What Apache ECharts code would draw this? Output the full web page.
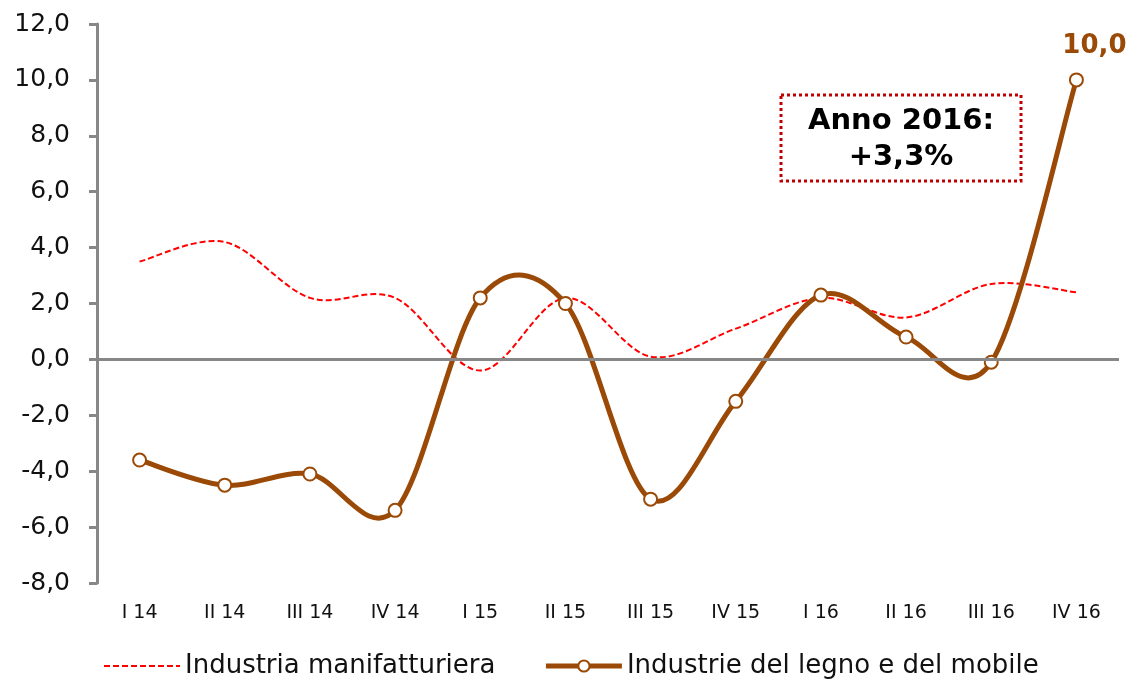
<!DOCTYPE html>
<html>
<head>
<meta charset="utf-8">
<script src="https://cdn.jsdelivr.net/npm/echarts@6/dist/echarts.min.js"></script>
<style>
  html, body { margin: 0; padding: 0; background: #fff; }
  #chart { width: 1130px; height: 680px; }
</style>
</head>
<body>
<div id="chart"></div>
<script>
const categories = ['I 14', 'II 14', 'III 14', 'IV 14', 'I 15', 'II 15', 'III 15', 'IV 15', 'I 16', 'II 16', 'III 16', 'IV 16'];
const manifatturiera = [3.5, 4.2, 2.2, 2.2, -0.4, 2.2, 0.1, 1.1, 2.2, 1.5, 2.7, 2.4];
const legnoMobile = [-3.6, -4.5, -4.1, -5.4, 2.2, 2.0, -5.0, -1.5, 2.3, 0.8, -0.1, 10.0];
const yTicks = { min: -8, max: 12, step: 2 };
const noteText = 'Anno 2016:\n+3,3%';

const font = 'DejaVu Sans, Verdana, sans-serif';
const brown = '#9a4a06';
const red = '#ff0000';
const grey = '#878787';

const fmt = v => v.toFixed(1).replace('.', ',');

// smooth curve like the spreadsheet one (Catmull-Rom as cubic Bezier)
function smoothPath(pts) {
  let d = 'M' + pts[0][0] + ',' + pts[0][1];
  for (let i = 0; i < pts.length - 1; i++) {
    const p0 = pts[Math.max(i - 1, 0)];
    const p1 = pts[i];
    const p2 = pts[i + 1];
    const p3 = pts[Math.min(i + 2, pts.length - 1)];
    const c1 = [p1[0] + (p2[0] - p0[0]) / 6, p1[1] + (p2[1] - p0[1]) / 6];
    const c2 = [p2[0] - (p3[0] - p1[0]) / 6, p2[1] - (p3[1] - p1[1]) / 6];
    d += 'C' + c1.join(',') + ' ' + c2.join(',') + ' ' + p2.join(',');
  }
  return d;
}

function curveSeries(values, style, z) {
  return {
    type: 'custom',
    silent: true,
    z: z,
    data: values.map((v, i) => [i, v]),
    encode: { x: 0, y: 1 },
    renderItem: (params, api) => {
      if (params.dataIndex !== 0) return null;
      const pts = values.map((v, i) => api.coord([i, v]));
      return {
        type: 'path',
        shape: { pathData: smoothPath(pts) },
        style: Object.assign({ fill: 'none' }, style)
      };
    }
  };
}

const chart = echarts.init(document.getElementById('chart'));
chart.setOption({
  animation: false,
  textStyle: { fontFamily: font },
  grid: { left: 97, right: 11, top: 24, bottom: 97 },
  legend: {
    top: 648,
    left: 98,
    itemWidth: 76,
    itemHeight: 14,
    itemGap: 48,
    textStyle: { fontSize: 26, color: '#111', fontFamily: font },
    data: [
      {
        name: 'Industria manifatturiera',
        lineStyle: { color: red, width: 2, type: [6, 3], opacity: 1 },
        itemStyle: { opacity: 0 }
      },
      {
        name: 'Industrie del legno e del mobile',
        lineStyle: { color: brown, width: 5, opacity: 1 }
      }
    ]
  },
  xAxis: {
    type: 'category',
    data: categories,
    boundaryGap: true,
    axisLine: { show: false, onZero: false },
    axisTick: { show: false },
    axisLabel: { fontSize: 19, color: '#111', margin: 21 }
  },
  yAxis: {
    type: 'value',
    min: yTicks.min,
    max: yTicks.max,
    interval: yTicks.step,
    axisLine: { show: true, lineStyle: { color: grey, width: 3 } },
    axisTick: { show: true, length: 8, lineStyle: { color: grey, width: 3 } },
    splitLine: { show: false },
    axisLabel: { fontSize: 25, color: '#111', margin: 27, formatter: fmt }
  },
  series: [
    {
      name: 'Industria manifatturiera',
      type: 'line',
      data: manifatturiera,
      symbol: 'none',
      lineStyle: { color: red, width: 2, opacity: 0 },
      itemStyle: { color: red },
      z: 1,
      markLine: {
        silent: true,
        symbol: 'none',
        label: { show: false },
        lineStyle: { color: grey, width: 3, type: 'solid', opacity: 1 },
        data: [{ yAxis: 0 }]
      }
    },
    curveSeries(manifatturiera, { stroke: red, lineWidth: 2, lineDash: [6, 3] }, 2),
    curveSeries(legnoMobile, { stroke: brown, lineWidth: 5 }, 3),
    {
      name: 'Industrie del legno e del mobile',
      type: 'line',
      data: legnoMobile,
      symbol: 'circle',
      symbolSize: 13,
      lineStyle: { color: brown, width: 5, opacity: 0 },
      itemStyle: { color: '#fff', borderColor: brown, borderWidth: 2 },
      z: 4,
      label: {
        show: true,
        position: 'top',
        distance: 12,
        offset: [18, -1],
        fontSize: 26,
        fontWeight: 'bold',
        color: brown,
        formatter: p => (p.dataIndex === legnoMobile.length - 1 ? fmt(p.value) : '')
      }
    }
  ],
  graphic: [
    {
      type: 'rect',
      shape: { x: 781, y: 95, width: 240, height: 86 },
      style: { fill: '#fff', stroke: '#c00000', lineWidth: 3, lineDash: [3, 3] },
      z: 10
    },
    {
      type: 'text',
      x: 901,
      y: 139,
      style: {
        text: noteText,
        fontFamily: font,
        fontSize: 29,
        fontWeight: 'bold',
        fill: '#000',
        align: 'center',
        verticalAlign: 'middle',
        lineHeight: 36
      },
      z: 11
    }
  ]
});
</script>
</body>
</html>
